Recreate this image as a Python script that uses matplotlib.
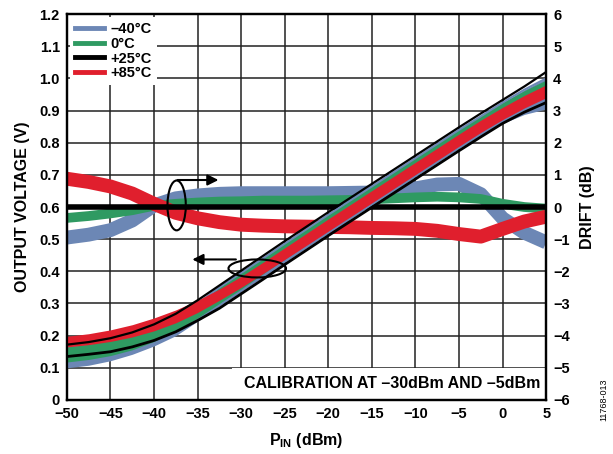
import matplotlib
matplotlib.use("Agg")
import matplotlib.pyplot as plt
from matplotlib.patches import Ellipse, Rectangle
from matplotlib.lines import Line2D

plt.rcParams['font.family'] = ['Liberation Sans', 'DejaVu Sans']
plt.rcParams['font.weight'] = 'bold'
plt.rcParams['mathtext.fontset'] = 'custom'
plt.rcParams['mathtext.bf'] = 'Liberation Sans:bold'
plt.rcParams['mathtext.rm'] = 'Liberation Sans:bold'

# input power (dBm)
pin = [-50, -47.5, -45, -42.5, -40, -37.5, -35, -32.5, -30, -27.5, -25, -22.5,
       -20, -17.5, -15, -12.5, -10, -7.5, -5, -2.5, 0, 2.5, 5]

# output voltage bands (V), low / high edge per temperature
v_blue_lo = [.100, .108, .122, .142, .168, .200, .245, .292, .337, .382, .428, .473,
             .518, .562, .606, .650, .694, .738, .782, .823, .860, .888, .905]
v_blue_hi = [.168, .176, .188, .206, .230, .262, .300, .350, .395, .440, .486, .531,
             .576, .620, .664, .708, .752, .796, .840, .882, .925, .965, 1.000]
v_green_lo = [.118, .126, .138, .156, .182, .215, .255, .300, .345, .392, .438, .483,
              .528, .572, .616, .660, .704, .748, .792, .835, .875, .912, .945]
v_green_hi = [.165, .173, .185, .203, .228, .260, .300, .350, .396, .442, .488, .533,
              .578, .622, .666, .710, .754, .798, .842, .885, .925, .962, .995]
v_red_lo = [.165, .172, .182, .196, .215, .240, .272, .310, .350, .393, .437, .481,
            .525, .569, .613, .657, .701, .745, .789, .832, .872, .908, .940]
v_red_hi = [.198, .206, .218, .234, .255, .280, .310, .345, .384, .428, .473, .518,
            .563, .607, .651, .695, .739, .783, .827, .870, .910, .947, .980]
v_black_lo = [.135, .142, .150, .165, .185, .212, .247, .285, .330, .375, .421, .466,
              .511, .555, .599, .643, .687, .731, .775, .818, .860, .895, .925]
v_black_hi = [.172, .180, .192, .210, .235, .268, .310, .356, .402, .448, .494, .539,
              .584, .628, .672, .716, .760, .804, .848, .891, .933, .975, 1.020]

# drift (dB) per temperature
d_blue = [-0.95, -0.86, -0.72, -0.42, 0.05, 0.27, 0.36, 0.41, 0.43, 0.43, 0.43, 0.43,
          0.43, 0.44, 0.45, 0.50, 0.58, 0.70, 0.72, 0.40, -0.35, -0.80, -1.10]
d_green = [-0.34, -0.28, -0.20, -0.10, 0.04, 0.10, 0.14, 0.17, 0.18, 0.20, 0.20, 0.20,
           0.21, 0.22, 0.24, 0.27, 0.30, 0.32, 0.30, 0.25, 0.10, 0.00, -0.05]
d_black = [0.0] * len(pin)
d_red = [0.88, 0.78, 0.64, 0.42, 0.10, -0.18, -0.35, -0.47, -0.55, -0.58, -0.60, -0.61,
         -0.62, -0.63, -0.65, -0.66, -0.68, -0.74, -0.84, -0.92, -0.68, -0.45, -0.30]

labels = ['\u201340\u00b0C', '0\u00b0C', '+25\u00b0C', '+85\u00b0C']
colors = ['#6c87b5', '#2f9a62', '#000000', '#e01f2d']

fig = plt.figure(figsize=(6.13, 4.54), dpi=100)
ax = fig.add_axes([0.109, 0.119, 0.782, 0.850])
ax2 = ax.twinx()

ax.set_xlim(-50, 5)
ax.set_ylim(0, 1.2)
ax2.set_ylim(-6, 6)

ax.set_xticks(range(-50, 6, 5))
ax.set_yticks([i / 10 for i in range(13)])
ax.set_yticklabels(['0'] + ['%.1f' % (i / 10) for i in range(1, 13)])
ax2.set_yticks(range(-6, 7))
ax.grid(True, color='#222222', linewidth=1.1)
ax.set_axisbelow(True)
for a in (ax, ax2):
    a.tick_params(length=0, labelsize=10.5, pad=5)
    for s in a.spines.values():
        s.set_linewidth(1.6)

# drift curves, plotted in dB on the right scale
t2 = ax2.transData
ax.plot(pin, d_blue, color=colors[0], lw=10, transform=t2, zorder=2, solid_capstyle='butt')
ax.plot(pin, d_green, color=colors[1], lw=7, transform=t2, zorder=2, solid_capstyle='butt')
ax.plot(pin, d_red, color=colors[3], lw=10, transform=t2, zorder=2, solid_capstyle='butt')
ax.plot(pin, d_black, color=colors[2], lw=4, transform=t2, zorder=2.1, solid_capstyle='butt')

# output voltage bands
ax.fill_between(pin, v_blue_lo, v_blue_hi, color=colors[0], lw=0, zorder=3)
ax.fill_between(pin, v_green_lo, v_green_hi, color=colors[1], lw=0, zorder=3.1)
ax.plot(pin, v_blue_hi, color=colors[0], lw=1.5, zorder=3.2)
ax.fill_between(pin, v_red_lo, v_red_hi, color=colors[3], lw=0, zorder=3.3)
ax.plot(pin, v_black_lo, color='black', lw=2, zorder=3.5)
ax.plot(pin, v_black_hi, color='black', lw=1.6, zorder=3.5)

# annotations
ax.add_patch(Ellipse((-37.4, 0.605), 2.1, 0.155, fill=False, lw=1.5, ec='black', zorder=5))
ax.annotate('', xy=(-32.6, 0.684), xytext=(-37.3, 0.684),
            arrowprops=dict(arrowstyle='-|>', color='black', lw=1.5,
                            mutation_scale=16, shrinkA=0, shrinkB=0), zorder=5)
ax.add_patch(Ellipse((-28.15, 0.409), 6.6, 0.056, fill=False, lw=1.5, ec='black', zorder=5))
ax.annotate('', xy=(-35.6, 0.437), xytext=(-30.6, 0.437),
            arrowprops=dict(arrowstyle='-|>', color='black', lw=1.5,
                            mutation_scale=16, shrinkA=0, shrinkB=0), zorder=5)

ax.add_patch(Rectangle((-31.0, 0.002), 36.0, 0.096, fc='white', ec='none', zorder=1.5))
ax.text(4.3, 0.052, 'CALIBRATION AT \u201330dBm AND \u20135dBm', ha='right', va='center',
        fontsize=11.5, fontweight='bold', zorder=6)

handles = [Line2D([], [], color=c, lw=3.5) for c in colors]
leg = ax.legend(handles, labels, loc='upper left', bbox_to_anchor=(0.0, 1.0),
                frameon=True, fancybox=False, framealpha=1, edgecolor='none',
                fontsize=10.5, handlelength=2.0, handletextpad=0.45,
                labelspacing=0.05, borderpad=0.35, borderaxespad=0.2)
leg.set_zorder(10)

ax.set_ylabel('OUTPUT VOLTAGE (V)', fontsize=11.5, fontweight='bold', labelpad=7)
ax2.set_ylabel('DRIFT (dB)', fontsize=11.5, fontweight='bold', labelpad=7)
ax.set_xlabel(r'$\mathbf{P_{IN}}$ (dBm)', fontsize=11.5, fontweight='bold', labelpad=7)

fig.text(0.985, 0.12, '11768-013', rotation=90, fontsize=6.5, fontweight='normal',
         ha='center', va='center')

fig.savefig('out.png', dpi=100)
